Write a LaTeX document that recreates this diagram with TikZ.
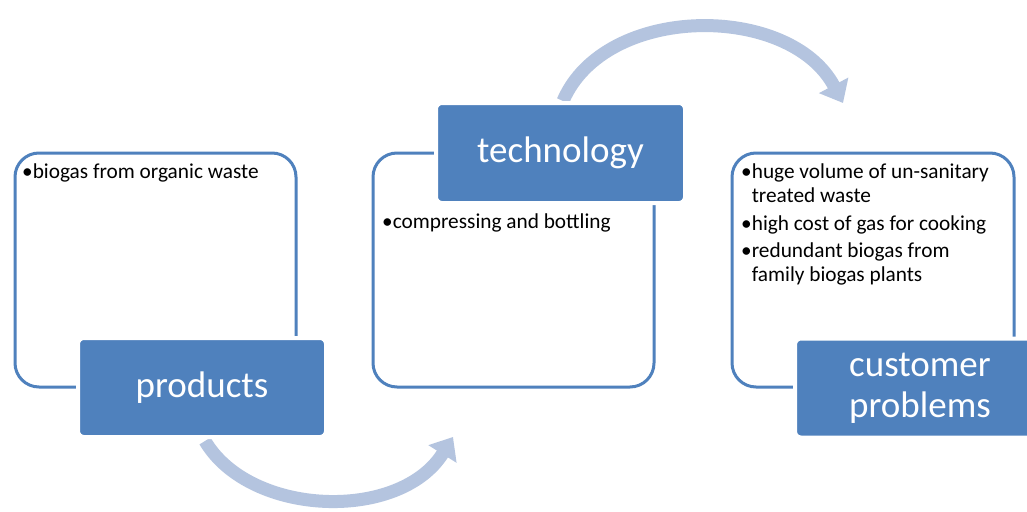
\documentclass[tikz,border=0pt]{standalone}
\usepackage{fontspec}
\setmainfont{Carlito}
\usetikzlibrary{arrows.meta}
\definecolor{accent}{HTML}{4F81BD}
\definecolor{arcc}{HTML}{B4C4DF}
\begin{document}
\begin{tikzpicture}[x=1pt,y=-1pt,
  panel/.style={draw=accent, line width=3pt, fill=white, rounded corners=24pt, inner sep=0pt},
  tag/.style={draw=white, line width=4pt, fill=accent, rounded corners=6pt, text=white,
    font=\fontsize{37}{41}\selectfont, align=center, inner sep=0pt},
  flow/.style={draw=arcc, line width=13pt, -{Triangle[width=32pt,length=20pt]}},
  body/.style={anchor=north west, font=\fontsize{21.3}{24}\selectfont, align=left, inner sep=0pt}]
\clip (0,0) rectangle (1027,511);
\fill[white] (0,0) rectangle (1027,511);
% arcs
\coordinate (b0) at (205,441);
\coordinate (b1) at (453,437);
\coordinate (t0) at (563,101);
\coordinate (t1) at (843,103);
\draw[flow] (b0) .. controls (250,517) and (400,522) .. (b1);
\draw[flow] (t0) .. controls (605,3) and (790,3) .. (t1);
% panels
\node[panel, minimum width=281pt, minimum height=234pt] (p1) at (155.5,270) {};
\node[panel, minimum width=281pt, minimum height=234pt] (p2) at (513.5,270) {};
\node[panel, minimum width=282pt, minimum height=234pt] (p3) at (873,270) {};
% body texts
\node[body] (t1txt) at (22,164) {•biogas from organic waste};
\node[body] (t2txt) at (382,214) {•compressing and bottling};
\node[body] (t3txt) at (741,164) {•huge volume of un-sanitary\\
\phantom{•}treated waste\\[4pt]
•high cost of gas for cooking\\[3pt]
•redundant biogas from\\
\phantom{•}family biogas plants};
% labels
\node[tag, minimum width=248pt, minimum height=99pt] (l1) at (202,387.5) {products};
\node[tag, minimum width=249pt, minimum height=100pt] (l2) at (560.5,153) {technology};
\node[tag, minimum width=250pt, minimum height=99pt] (l3) at (920,388) {customer\\problems};
\end{tikzpicture}
\end{document}
